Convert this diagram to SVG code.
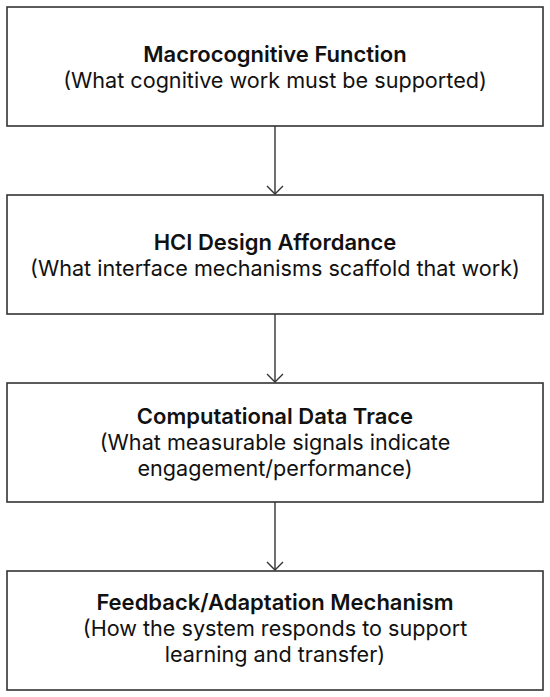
<svg xmlns="http://www.w3.org/2000/svg" width="550" height="697" viewBox="0 0 550 697">
<defs>
<style>
.box{fill:#fff;stroke:#333;stroke-width:1.6}
.t{font-family:Inter,"Liberation Sans",sans-serif;font-size:21.6px;fill:#111;text-anchor:middle}
.b{font-weight:600;font-size:22px}
.c{stroke:#333;stroke-width:1.4;fill:none}
</style>
<marker id="ah" markerWidth="20" markerHeight="20" refX="10" refY="10" orient="auto" markerUnits="userSpaceOnUse">
<path d="M2,2 L10,10 L2,18" fill="none" stroke="#333" stroke-width="1.4"/>
</marker>
</defs>
<rect width="550" height="697" fill="#fff"/>
<g id="connectors">
<line class="c" x1="275" y1="126" x2="275" y2="194" marker-end="url(#ah)"/>
<line class="c" x1="275" y1="314" x2="275" y2="382" marker-end="url(#ah)"/>
<line class="c" x1="275" y1="502" x2="275" y2="570" marker-end="url(#ah)"/>
</g>
<g id="n1">
<rect class="box" x="7" y="7" width="536" height="119"/>
<text class="t b" x="275" y="62">Macrocognitive Function</text>
<text class="t" x="275" y="88">(What cognitive work must be supported)</text>
</g>
<g id="n2">
<rect class="box" x="7" y="195" width="536" height="119"/>
<text class="t b" x="275" y="250">HCI Design Affordance</text>
<text class="t" x="275" y="276">(What interface mechanisms scaffold that work)</text>
</g>
<g id="n3">
<rect class="box" x="7" y="383" width="536" height="119"/>
<text class="t b" x="275" y="424">Computational Data Trace</text>
<text class="t" x="275" y="450">(What measurable signals indicate</text>
<text class="t" x="275" y="476">engagement/performance)</text>
</g>
<g id="n4">
<rect class="box" x="7" y="571" width="536" height="119"/>
<text class="t b" x="275" y="610">Feedback/Adaptation Mechanism</text>
<text class="t" x="275" y="636">(How the system responds to support</text>
<text class="t" x="275" y="662">learning and transfer)</text>
</g>
</svg>
